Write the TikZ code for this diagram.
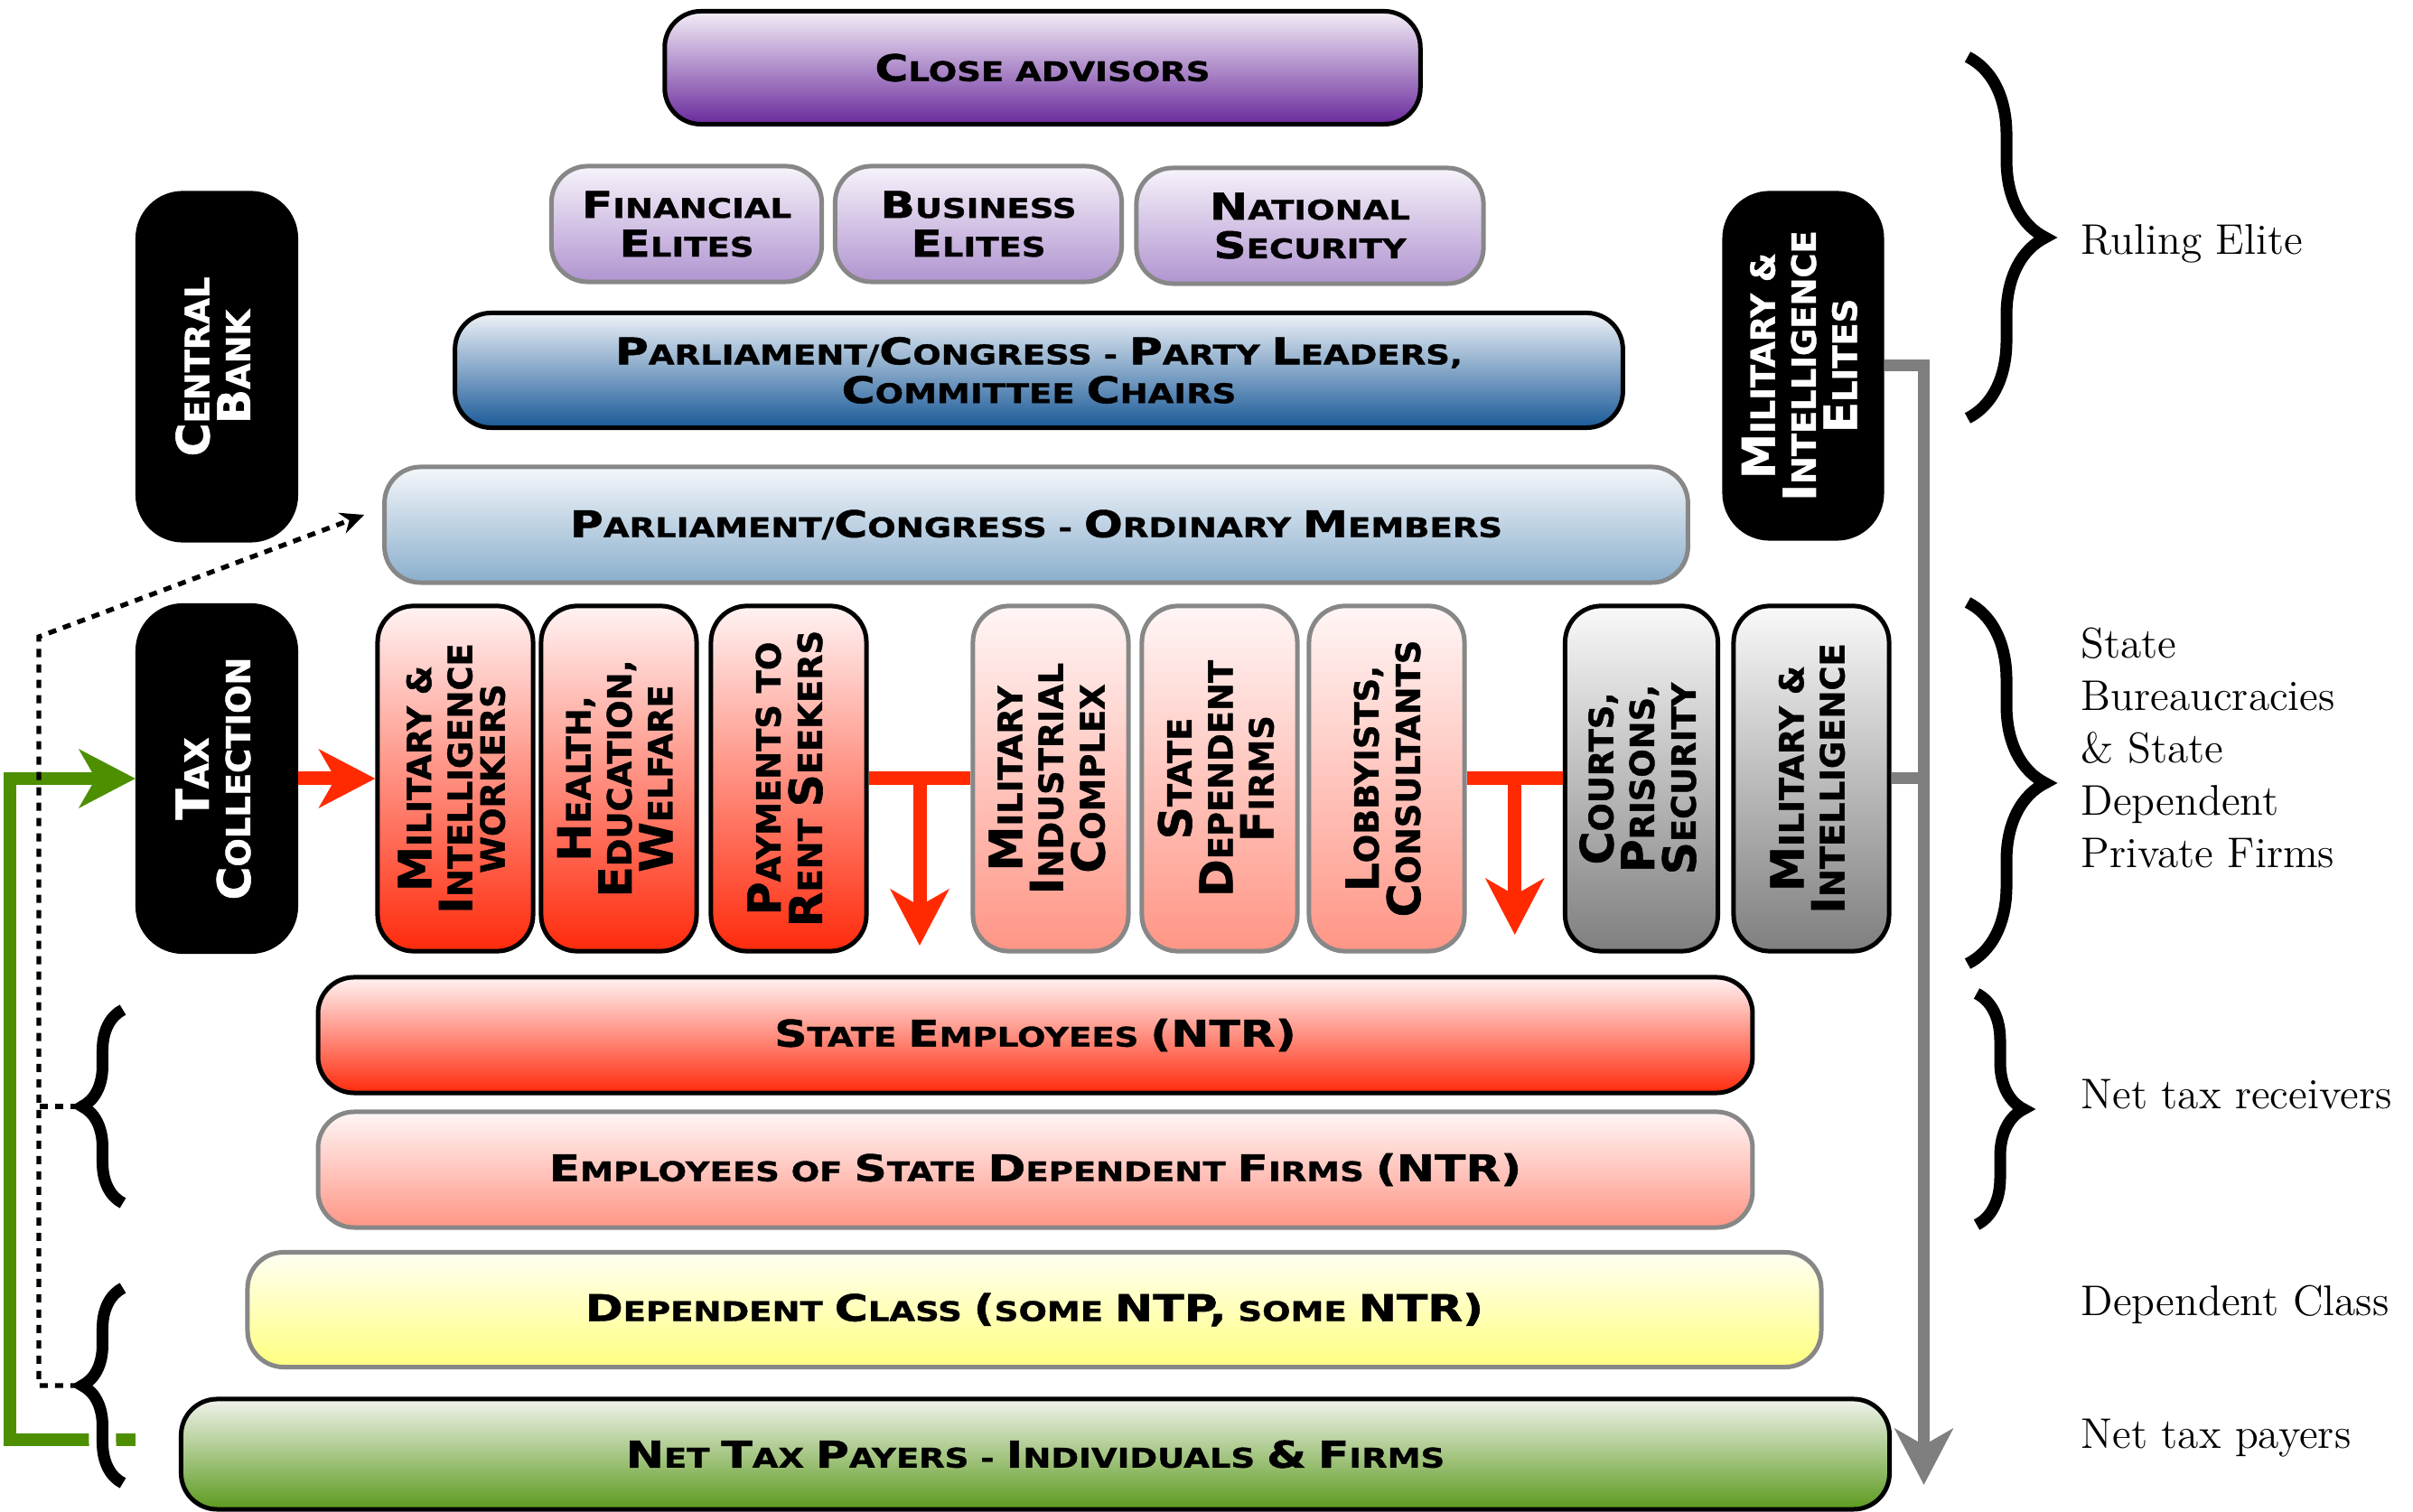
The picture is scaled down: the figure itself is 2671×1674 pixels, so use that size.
\documentclass[tikz,border=0pt]{standalone}
\usepackage{fontspec}
\usepackage{graphicx}
\usetikzlibrary{arrows.meta,decorations.pathreplacing,calc}

\newfontfamily\gillfont{DejaVu Sans}[FakeStretch=1.24, FakeBold=1.2]
\newfontfamily\copfont{DejaVu Sans}[FakeBold=1.2]
\newcommand\bigc[1]{\scalebox{1.36}{#1}}
\newcommand\vlab[1]{\rotatebox{90}{\def\arraystretch{0.75}\begin{tabular}{@{}c@{}}#1\end{tabular}}}

\definecolor{cavtop}{HTML}{F3EEF7}\definecolor{cavbot}{HTML}{6A2A9C}
\definecolor{liltop}{HTML}{F7F3FA}\definecolor{lilbot}{HTML}{B094D0}
\definecolor{navtop}{HTML}{EEF2F7}\definecolor{navbot}{HTML}{1A5A98}
\definecolor{skytop}{HTML}{F4F7FA}\definecolor{skybot}{HTML}{8AAECD}
\definecolor{redtop}{HTML}{FFF3F3}\definecolor{redbot}{HTML}{FF2A0C}
\definecolor{pnktop}{HTML}{FFF6F6}\definecolor{pnkbot}{HTML}{FF9585}
\definecolor{gretop}{HTML}{F9F9F9}\definecolor{grebot}{HTML}{7F7F7F}
\definecolor{yeltop}{HTML}{FFFFF2}\definecolor{yelbot}{HTML}{FFFF80}
\definecolor{grntop}{HTML}{F0F3EC}\definecolor{grnbot}{HTML}{5C9A1E}
\definecolor{grnline}{HTML}{4E8F00}
\definecolor{redline}{HTML}{FF2A00}
\definecolor{edgegrey}{HTML}{878787}

\tikzset{
  slab/.style={rounded corners=0.4cm, line width=0.05cm, inner sep=0pt, align=center},
  hbar/.style={slab, minimum height=1.28cm, font=\gillfont\bfseries\fontsize{8.5}{12.2}\selectfont},
  vbar/.style={slab, minimum width=1.72cm, minimum height=3.82cm, font=\copfont\bfseries\fontsize{10.5}{11}\selectfont},
  blackbar/.style={vbar, fill=black, draw=black, text=white, rounded corners=0.5cm, minimum width=1.75cm},
  bdark/.style={draw=black},
  blite/.style={draw=edgegrey},
  fillcav/.style={top color=cavtop, bottom color=cavbot},
  filllil/.style={top color=liltop, bottom color=lilbot},
  fillnav/.style={top color=navtop, bottom color=navbot},
  fillsky/.style={top color=skytop, bottom color=skybot},
  fillred/.style={top color=redtop, bottom color=redbot},
  fillpnk/.style={top color=pnktop, bottom color=pnkbot},
  fillgre/.style={top color=gretop, bottom color=grebot},
  fillyel/.style={top color=yeltop, bottom color=yelbot},
  fillgrn/.style={top color=grntop, bottom color=grnbot},
  bigtip/.style={-{Stealth[length=6.2mm,width=6.4mm,inset=1.8mm]}},
  redflow/.style={draw=redline, line width=0.15cm},
  grnflow/.style={draw=grnline, line width=0.14cm},
  greyflow/.style={draw=grebot, line width=0.13cm},
  dotpath/.style={line width=1.5pt, dash pattern=on 0.9mm off 0.8mm},
  curly/.style={decorate, decoration={brace, amplitude=#1}, line width=0.13cm},
  sidelab/.style={anchor=west, align=left, inner sep=0pt, font=\fontsize{13.5}{16.5}\selectfont}
}

\begin{document}
\begin{tikzpicture}[x=0.01cm, y=-0.01cm]
  \useasboundingbox (0,0) rectangle (2671,1674);

  % ruling elite
  \node[hbar, bdark, fillcav, minimum width=8.36cm, minimum height=1.25cm] (close) at (1154,75) {\bigc{C}LOSE ADVISORS};
  \node[hbar, blite, filllil, minimum width=2.99cm] (fin) at (760,248) {\bigc{F}INANCIAL\\\bigc{E}LITES};
  \node[hbar, blite, filllil, minimum width=3.17cm] (bus) at (1083,248) {\bigc{B}USINESS\\\bigc{E}LITES};
  \node[hbar, blite, filllil, minimum width=3.84cm] (nat) at (1450,250) {\bigc{N}ATIONAL\\\bigc{S}ECURITY};
  \node[hbar, bdark, fillnav, minimum width=12.92cm, minimum height=1.27cm] (lead) at (1150,410)
    {\bigc{P}ARLIAMENT/\bigc{C}ONGRESS - \bigc{P}ARTY \bigc{L}EADERS,\\\bigc{C}OMMITTEE \bigc{C}HAIRS};
  \node[hbar, blite, fillsky, minimum width=14.42cm] (om) at (1147,581)
    {\bigc{P}ARLIAMENT/\bigc{C}ONGRESS - \bigc{O}RDINARY \bigc{M}EMBERS};

  \node[blackbar, minimum height=3.84cm] (cb) at (240,406) {\vlab{\bigc{C}ENTRAL\\\bigc{B}ANK}};
  \node[blackbar, minimum width=1.74cm] (me) at (1996,405) {\vlab{\bigc{M}ILITARY \&\\\bigc{I}NTELLIGENCE\\\bigc{E}LITES}};
  \node[blackbar, minimum height=3.83cm] (tax) at (240,862) {\vlab{\bigc{T}AX\\\bigc{C}OLLECTION}};

  % state bureaucracies and firms
  \foreach \nm/\xx/\txt in {miw/504/{\bigc{M}ILITARY \&\\\bigc{I}NTELLIGENCE\\WORKERS},
                            hew/685/{\bigc{H}EALTH,\\\bigc{E}DUCATION,\\\bigc{W}ELFARE},
                            prs/873/{\bigc{P}AYMENTS TO\\\bigc{R}ENT \bigc{S}EEKERS}}
    \node[vbar, bdark, fillred] (\nm) at (\xx,862) {\vlab{\txt}};
  \foreach \nm/\xx/\txt in {mic/1163/{\bigc{M}ILITARY\\\bigc{I}NDUSTRIAL\\\bigc{C}OMPLEX},
                            sdf/1350/{\bigc{S}TATE\\\bigc{D}EPENDENT\\\bigc{F}IRMS},
                            lc/1535/{\bigc{L}OBBYISTS,\\\bigc{C}ONSULTANTS}}
    \node[vbar, blite, fillpnk] (\nm) at (\xx,862) {\vlab{\txt}};
  \node[vbar, bdark, fillgre, minimum width=1.69cm] (crt) at (1817,862) {\vlab{\bigc{C}OURTS,\\\bigc{P}RISONS,\\\bigc{S}ECURITY}};
  \node[vbar, bdark, fillgre] (mig) at (2005,862) {\vlab{\bigc{M}ILITARY \&\\\bigc{I}NTELLIGENCE}};

  % net tax receivers and payers
  \node[hbar, bdark, fillred, minimum width=15.87cm] (se) at (1146,1146) {\bigc{S}TATE \bigc{E}MPLOYEES \bigc{(NTR)}};
  \node[hbar, blite, fillpnk, minimum width=15.87cm] (esdf) at (1146,1295)
    {\bigc{E}MPLOYEES OF \bigc{S}TATE \bigc{D}EPENDENT \bigc{F}IRMS \bigc{(NTR)}};
  \node[hbar, blite, fillyel, minimum width=17.41cm, minimum height=1.27cm] (dc) at (1145,1450)
    {\bigc{D}EPENDENT \bigc{C}LASS \bigc{(}SOME \bigc{NTP,} SOME \bigc{NTR)}};
  \node[hbar, bdark, fillgrn, minimum width=18.9cm, minimum height=1.22cm] (ntp) at (1146,1610)
    {\bigc{N}ET \bigc{T}AX \bigc{P}AYERS - \bigc{I}NDIVIDUALS \bigc{\&} \bigc{F}IRMS};

  % money flows
  \coordinate (gfoot) at (150,1594);
  \draw[grnflow, bigtip] (gfoot) -- (11,1594) |- (tax.west);
  \draw[redflow, bigtip] (tax.east) -- (miw.west);
  \draw[redflow] (prs.east) -- (mic.west);
  \draw[redflow, bigtip] ($(prs.east)!0.5!(mic.west)$) -- ++(0,185);
  \draw[redflow] (lc.east) -- (crt.west);
  \draw[redflow, bigtip] ($(lc.east)!0.5!(crt.west)$) -- ++(0,173);
  \draw[greyflow, bigtip] (me.east) -- ++(44,0) coordinate (gturn) -- ++(0,1239);
  \draw[greyflow] (mig.east) -- (mig.east -| gturn);

  % braces
  \draw[curly=0.45cm] (136,1332) -- (136,1118);
  \draw[curly=0.45cm, white, line width=0.3cm] (136,1642) -- (136,1426);
  \draw[curly=0.45cm] (136,1642) -- (136,1426);
  \draw[curly=0.86cm] (2178,63) -- (2178,463);
  \draw[curly=0.86cm] (2178,667) -- (2178,1067);
  \draw[curly=0.52cm] (2188,1100) -- (2188,1356);

  \coordinate (ntrtip) at (87,1225);
  \coordinate (dctip) at (87,1534);
  \coordinate (dbend) at (43,705);
  \draw[dotpath] (ntrtip) -- (ntrtip -| dbend);
  \draw[dotpath, -{Stealth[length=2.6mm,width=2.4mm]}] (dctip) -| (dbend) -- ([xshift=-0.2cm,yshift=0.11cm]om.west);

  % side labels
  \node[sidelab] (rul) at (2303,270) {Ruling Elite};
  \node[sidelab] (sbx) at (2303,828) {State\\Bureaucracies\\\& State\\Dependent\\Private Firms};
  \node[sidelab] (ntrl) at (2303,1212) {Net tax receivers};
  \node[sidelab] (dcl) at (2303,1444) {Dependent Class};
  \node[sidelab] (ntpl) at (2303,1592) {Net tax payers};
\end{tikzpicture}
\end{document}
